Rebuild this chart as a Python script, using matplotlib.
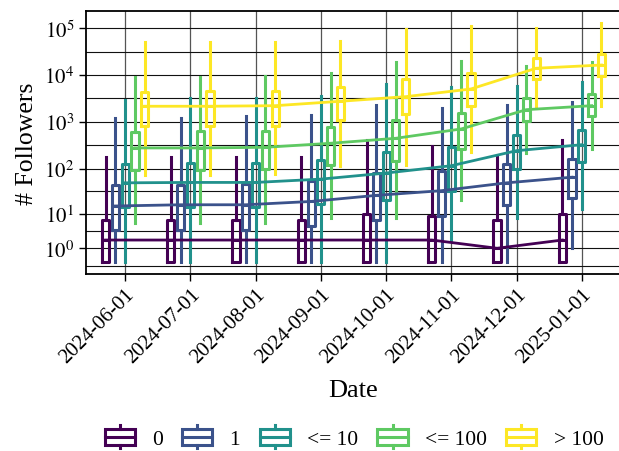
import numpy as np
import matplotlib
matplotlib.use("Agg")
import matplotlib.pyplot as plt
from matplotlib.legend_handler import HandlerBase
from matplotlib.lines import Line2D
from matplotlib.patches import Rectangle

# ── Données ───────────────────────────────────────────────────────────────────
dates = [
    "2024-06-01", "2024-07-01", "2024-08-01", "2024-09-01",
    "2024-10-01", "2024-11-01", "2024-12-01", "2025-01-01",
]
groups = ["0", "1", "<= 10", "<= 100", "> 100"]
colors = ["#440154", "#3b528b", "#21918c", "#5ec962", "#fde725"]

# une ligne par groupe, une colonne par date
whislo = [
    [0, 0, 0, 0, 0, 0, 0, 0],
    [0, 0, 0, 0, 0, 0, 0, 1],
    [0, 0, 0, 0, 0, 2, 8, 13],
    [6, 6, 6, 8, 8, 20, 216, 263],
    [74, 74, 76, 115, 121, 224, 1950, 2220],
]
q1 = [
    [0, 0, 0, 0, 0, 0, 0, 0],
    [4, 4, 4, 5, 7, 9, 16, 23],
    [14, 14, 14, 17, 20, 33, 100, 136],
    [95, 95, 98, 121, 148, 263, 1030, 1320],
    [830, 830, 830, 1115, 1475, 2220, 8260, 9430],
]
medians = [
    [2, 2, 2, 2, 2, 2, 1, 2],
    [15, 16, 16, 19, 26, 33, 49, 65],
    [49, 50, 50, 59, 80, 115, 242, 325],
    [277, 277, 286, 349, 446, 706, 1825, 2220],
    [2160, 2160, 2220, 2760, 3460, 5050, 14000, 16400],
]
q3 = [
    [7, 7, 7, 7, 10, 9, 7, 10],
    [45, 45, 47, 53, 80, 90, 125, 160],
    [125, 130, 134, 153, 224, 286, 533, 672],
    [600, 630, 650, 768, 1115, 1550, 3240, 3950],
    [4300, 4500, 4650, 5490, 8260, 11100, 23200, 28200],
]
whishi = [
    [175, 175, 175, 175, 400, 310, 175, 400],
    [1200, 1240, 1320, 1430, 2330, 1985, 2300, 2630],
    [2940, 3200, 3270, 3630, 6460, 5660, 5770, 7020],
    [8980, 8980, 9700, 11100, 19400, 20300, 15900, 19400],
    [50200, 50200, 51500, 54400, 96600, 110000, 101500, 129700],
]

LW = 2.2
BOX_W = 0.11
DODGE = 0.15

plt.rcParams["font.family"] = ["Liberation Serif", "DejaVu Serif"]
plt.rcParams["mathtext.fontset"] = "stix"


def _fwd(v):
    v = np.asarray(v, dtype=float)
    with np.errstate(divide="ignore", invalid="ignore"):
        return np.log10(np.clip(v + 1.0, 1e-9, None))


def _inv(v):
    return np.power(10.0, np.asarray(v, dtype=float)) - 1.0


class BoxHandler(HandlerBase):
    def create_artists(self, legend, orig, xdescent, ydescent, width, height, fontsize, trans):
        c = orig.get_color()
        x0, y0 = -xdescent, -ydescent
        stub = 0.15 * height
        box = Rectangle((x0, y0 + stub), width, height - 2 * stub, fill=False,
                        edgecolor=c, linewidth=LW, transform=trans)
        mid = Line2D([x0, x0 + width], [y0 + height / 2] * 2, color=c, linewidth=LW, transform=trans)
        top = Line2D([x0 + width / 2] * 2, [y0 + height - stub, y0 + height], color=c, linewidth=LW, transform=trans)
        bot = Line2D([x0 + width / 2] * 2, [y0, y0 + stub], color=c, linewidth=LW, transform=trans)
        return [box, mid, top, bot]


fig = plt.figure(figsize=(6.19, 4.52), dpi=100)
ax = fig.add_axes([86 / 619, 0.3923, 535 / 619, 0.5812])
ax.set_yscale("function", functions=(_fwd, _inv))

x = np.arange(len(dates))
for gi, (name, color) in enumerate(zip(groups, colors)):
    pos = x + (gi - 2) * DODGE
    stats = [
        {"whislo": whislo[gi][d], "q1": q1[gi][d], "med": medians[gi][d],
         "q3": q3[gi][d], "whishi": whishi[gi][d], "fliers": []}
        for d in range(len(dates))
    ]
    props = dict(color=color, linewidth=LW)
    ax.bxp(stats, positions=pos, widths=BOX_W, showfliers=False, showcaps=False,
           boxprops=props, whiskerprops=props, medianprops=props, manage_ticks=False)
    ax.plot(pos, medians[gi], color=color, linewidth=2.0, zorder=3)

# ── Axes ─────────────────────────────────────────────────────────────────────
ax.set_xlim(-0.6, 7.6)
ax.set_ylim(_inv(-0.2415), _inv(5.3695))

majors = 10.0 ** np.arange(0, 6)
ax.set_yticks(majors, [rf"$10^{{{k}}}$" for k in range(6)])
lm = _fwd(majors)
minor_l = np.concatenate([[lm[0] - (lm[1] - lm[0]) / 2], (lm[:-1] + lm[1:]) / 2])
ax.set_yticks(_inv(minor_l), minor=True)

ax.set_xticks(x)
ax.set_xticklabels(dates, rotation=45, ha="right", va="top", rotation_mode="anchor")

ax.tick_params(which="major", direction="out", length=5, width=1, labelsize=15)
ax.tick_params(axis="x", which="major", pad=3)
ax.tick_params(which="minor", length=0)
ax.grid(True, which="both", axis="y", color="#111111", linewidth=0.8)
ax.grid(True, which="major", axis="x", color="#555555", linewidth=0.9)
ax.set_axisbelow(True)

for side in ("top", "left", "bottom"):
    ax.spines[side].set_linewidth(1.3)
ax.spines["right"].set_visible(False)

ax.set_xlabel("Date", fontsize=19, labelpad=9)
ax.set_ylabel("# Followers", fontsize=18.5)

handles = [Line2D([], [], color=c) for c in colors]
fig.legend(handles, groups, loc="center", bbox_to_anchor=(354 / 619, 14 / 452),
           ncol=5, frameon=False, fontsize=15.5, handlelength=1.4, handleheight=1.3,
           handletextpad=0.8, columnspacing=0.9,
           handler_map={h: BoxHandler() for h in handles})

fig.savefig("out.png", dpi=100)
